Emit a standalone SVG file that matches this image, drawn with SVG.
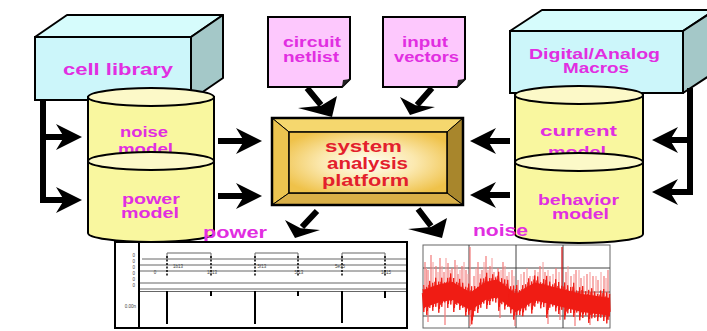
<svg xmlns="http://www.w3.org/2000/svg" width="707" height="331" viewBox="0 0 707 331">
<style>
.t{font-family:"Liberation Sans",Arial,sans-serif;font-weight:bold;}
.m{fill:#e12ee1;font-size:15px;}
.r{fill:#e3202c;font-size:17px;}
.cyl{fill:#f9f79f;stroke:#000;stroke-width:2;}
.cyltop{fill:#fcf9c8;stroke:#000;stroke-width:2;}
.doc{fill:#fdc8fd;stroke:#000;stroke-width:2;}
.front{fill:#ccf6fa;stroke:#000;stroke-width:2;}
.top{fill:#d6fcfc;stroke:#000;stroke-width:2;stroke-linejoin:round;}
.side{fill:#a4c8c8;stroke:#000;stroke-width:2;stroke-linejoin:round;}
.conn{fill:none;stroke:#000;stroke-width:6;marker-end:url(#ah);}
.sm{font-family:"Liberation Sans",Arial,sans-serif;font-size:4.5px;fill:#444;}
.grid{stroke:#444;stroke-width:1;}
.pl{fill:none;stroke:#666;stroke-width:1;}
</style>
<defs>
<marker id="ah" viewBox="0 0 26 26" refX="10" refY="13" markerWidth="26" markerHeight="26" markerUnits="userSpaceOnUse" orient="auto">
<path d="M0,0 L26,13 L0,26 L8,13 Z" fill="#000"/>
</marker>
<radialGradient id="pg" cx="50%" cy="50%" r="60%">
<stop offset="0" stop-color="#fffef4"/>
<stop offset="0.5" stop-color="#fbe8ae"/>
<stop offset="1" stop-color="#efc24a"/>
</radialGradient>
</defs>

<g id="power-chart">
<rect x="115" y="242" width="292" height="86" fill="#fff" stroke="#000" stroke-width="2"/>
<line x1="139" y1="243" x2="139" y2="327" stroke="#000" stroke-width="2"/>
<path class="pl" d="M142,259H406M140,265H406M140,271H406M140,289H406M140,291.5H406"/>
<path class="pl" d="M140,283H406" stroke="#bbb"/>
<path class="pl" stroke="#555" d="M167,259V253H211V259M255,259V253H298V259M342,259V253H385V259"/>
<path fill="none" stroke="#000" stroke-width="1.5" stroke-dasharray="2,1.5" d="M167,256V277M211,256V277M255,256V277M298,256V277M342,256V277M385,256V277"/>
<path fill="none" stroke="#000" stroke-width="2" d="M167,291V324M255,291V324M342,291V323M211,291V296M298,291V296M385,291V298"/>
<g class="sm" text-anchor="end">
<text x="135" y="257">0</text><text x="135" y="263">0</text><text x="135" y="269">0</text>
<text x="135" y="275">0</text><text x="135" y="281">0</text><text x="135" y="287">0</text>
<text x="136" y="308">0.00n</text>
</g>
<g class="sm" text-anchor="middle">
<text x="178" y="268">1b13</text><text x="262" y="268">5f13</text><text x="340" y="268">5e15</text>
<text x="155" y="274">0</text><text x="212" y="274">1b13</text><text x="299" y="274">5f13</text><text x="386" y="274">1e15</text>
</g>
</g>

<g id="noise-chart">
<rect x="423" y="245" width="187" height="83" fill="#fff" stroke="#666" stroke-width="1"/>
<path class="grid" d="M469,245V328M516,245V328M563,245V328M423,268H610M423,292H610M423,316H610"/>
<path fill="none" stroke="#f27a7a" stroke-width="1.2" d="M425,262V297M428,270V296M431,255V295M436,266V293M440,258V292M444,272V291M448,263V291M452,268V290M455,260V291M458,274V293M462,266V296M466,270V298M470,247V300M474,276V298M478,262V295M482,270V292M486,256V290M490,266V289M494,272V288M498,268V288M503,262V292M507,276V295M512,270V298M518,280V300M524,272V297M530,276V293M535,270V291M540,266V291M545,272V293M550,276V294M556,268V295M566,272V298M571,276V299M576,270V300M581,278V302M587,274V303M593,276V303M598,280V304M604,276V305M608,270V305M428,300V322M445,300V325M470,305V326M500,300V318M515,305V326M548,300V324M560,305V320M575,305V326M590,305V325"/>
<path fill="none" stroke="#f59a9a" stroke-width="1" d="M426.5,268V296M433,262V294M438,272V292M442,266V291M446,258V291M450,270V290M457,265V292M460,270V294M464,262V297M468,274V299M476,268V296M480,274V293M484,262V291M488,270V289M492,258V288M496,276V288M501,270V290M505,266V293M509,272V296M514,276V300M521,274V298M527,268V295M533,276V291M538,272V291M543,262V292M548,270V293M553,274V294M559,272V296M568,266V298M574,274V300M579,270V301M584,276V302M590,272V303M596,276V304M601,272V304M606,278V305"/>
<path fill="none" stroke="#d42020" stroke-width="1.3" d="M562,247V297"/>
<polygon fill="#f01c14" points="423,290 435,285.8 441,283.8 453,282 462,287.8 471,292.3 480,285.7 486,281.8 497,279.5 507,286.9 516,294 525,288.3 535,282.6 549,285.7 562,289 582,294 597,296.1 610,298 610,316 597,314.1 582,312 562,307 549,303.7 535,300.6 525,306.3 516,312 507,304.9 497,297.5 486,299.8 480,303.7 471,310.3 462,305.8 453,300 441,301.8 435,303.8 423,308"/>
<polyline id="zz" fill="none" stroke="#f01c14" stroke-width="1" points="423,289 424.5,308 426,290.9 427.5,310.9 429,284.9 430.5,303.9 432,286.8 433.5,306.8 435,281.8 436.5,302.8 438,285.7 439.5,308.7 441,281.8 442.5,302.8 444,286.4 445.5,298.4 447,281.9 448.5,303.9 450,277.5 451.5,300.5 453,282 454.5,308 456,285.9 457.5,300.9 459,282.9 460.5,305.9 462,286.8 463.5,303.8 465,290.8 466.5,311.8 468,287.7 469.5,310.7 471,290.3 472.5,320.3 474,290.1 475.5,307.1 477,290.9 478.5,308.9 480,282.7 481.5,303.7 483,282.5 484.5,299.5 486,276.8 487.5,304.8 489,282 490.5,301 492,278.3 493.5,297.3 495,281.5 496.5,298.5 498,275.8 499.5,306.8 501,282.2 502.5,300.2 504,283.5 505.5,305.5 507,283.9 508.5,302.9 510,290.3 511.5,309.3 513,289.6 514.5,315.6 516,289 517.5,311 519,294.1 520.5,311.1 522,289.2 523.5,312.2 525,288.3 526.5,306.3 528,282.4 529.5,302.4 531,285.5 532.5,309.5 534,279.6 535.5,302.6 537,280.5 538.5,299.5 540,286.3 541.5,304.3 543,283.1 544.5,303.1 546,279.9 547.5,313.9 549,285.7 550.5,303.7 552,288.5 553.5,302.5 555,283.3 556.5,307.3 558,286 559.5,310 561,289.8 562.5,305.8 564,286.5 565.5,315.5 567,289.3 568.5,309.3 570,291 571.5,309 573,286.8 574.5,312.8 576,294.5 577.5,308.5 579,291.3 580.5,316.3 582,290 583.5,314 585,295.4 586.5,311.4 588,293.9 589.5,318.9 591,292.3 592.5,314.3 594,295.7 595.5,313.7 597,298.1 598.5,317.1 600,294.6 601.5,313.6 603,293 604.5,317 606,296.4 607.5,319.4 609,297.9 609.5,315.9"/>
<use href="#zz" transform="translate(0.7,-4)"/>
<use href="#zz" transform="translate(-0.7,4)"/>
</g>

<g id="cell-library">
<polygon class="top" points="35,37 67,15 223,15 191,37"/>
<polygon class="side" points="191,37 223,15 223,78 191,100"/>
<rect class="front" x="35" y="37" width="156" height="63"/>
<text class="t m" x="63" y="75" style="font-size:17px" textLength="110" lengthAdjust="spacingAndGlyphs">cell library</text>
</g>

<g id="macros">
<polygon class="top" points="510,31 542,10 715,10 683,31"/>
<polygon class="side" points="683,31 715,10 715,72 683,93"/>
<rect class="front" x="510" y="31" width="173" height="62"/>
<text class="t m" x="529" y="59" textLength="131" lengthAdjust="spacingAndGlyphs">Digital/Analog</text>
<text class="t m" x="563" y="73" textLength="66" lengthAdjust="spacingAndGlyphs">Macros</text>
</g>

<g id="noise-model">
<path class="cyl" d="M88,97V168A63,9 0 0 0 214,168V97Z"/>
<ellipse class="cyltop" cx="151" cy="97" rx="63" ry="9"/>
<text class="t m" x="120" y="137" textLength="48" lengthAdjust="spacingAndGlyphs">noise</text>
<text class="t m" x="118" y="154" textLength="55" lengthAdjust="spacingAndGlyphs">model</text>
</g>

<g id="power-model">
<path class="cyl" d="M88,161V233A63,9 0 0 0 214,233V161Z"/>
<ellipse class="cyltop" cx="151" cy="161" rx="63" ry="9"/>
<text class="t m" x="122" y="204" textLength="58" lengthAdjust="spacingAndGlyphs">power</text>
<text class="t m" x="121" y="218" textLength="58" lengthAdjust="spacingAndGlyphs">model</text>
</g>

<g id="current-model">
<path class="cyl" d="M515,95V168A64,9 0 0 0 643,168V95Z"/>
<ellipse class="cyltop" cx="579" cy="95" rx="64" ry="9"/>
<text class="t m" x="540" y="136" textLength="77" lengthAdjust="spacingAndGlyphs">current</text>
<text class="t m" x="548" y="157" textLength="58" lengthAdjust="spacingAndGlyphs">model</text>
</g>

<g id="behavior-model">
<path class="cyl" d="M515,162V234A64,9 0 0 0 643,234V162Z"/>
<ellipse class="cyltop" cx="579" cy="162" rx="64" ry="9"/>
<text class="t m" x="538" y="205" textLength="81" lengthAdjust="spacingAndGlyphs">behavior</text>
<text class="t m" x="552" y="219" textLength="57" lengthAdjust="spacingAndGlyphs">model</text>
</g>

<g id="circuit-netlist">
<path class="doc" d="M268,17H350V79L342,87H268Z"/>
<polygon points="342,87 350,79 343,80" fill="#222"/>
<text class="t m" x="283" y="47" style="font-size:14px" textLength="58" lengthAdjust="spacingAndGlyphs">circuit</text>
<text class="t m" x="283" y="62" style="font-size:14px" textLength="56" lengthAdjust="spacingAndGlyphs">netlist</text>
</g>

<g id="input-vectors">
<path class="doc" d="M383,17H465V79L457,87H383Z"/>
<polygon points="457,87 465,79 458,80" fill="#222"/>
<text class="t m" x="402" y="47" style="font-size:14px" textLength="46" lengthAdjust="spacingAndGlyphs">input</text>
<text class="t m" x="394" y="62" style="font-size:14px" textLength="65" lengthAdjust="spacingAndGlyphs">vectors</text>
</g>

<g id="platform">
<polygon points="272,118 463,118 447,132 289,132" fill="#f5d76e" stroke="#000" stroke-width="1"/>
<polygon points="272,118 289,132 289,193 272,205" fill="#ecc450" stroke="#000" stroke-width="1"/>
<polygon points="463,118 463,205 447,193 447,132" fill="#a8862c" stroke="#000" stroke-width="1"/>
<polygon points="272,205 463,205 447,193 289,193" fill="#dab048" stroke="#000" stroke-width="1"/>
<rect x="289" y="132" width="158" height="61" fill="url(#pg)" stroke="#000" stroke-width="1.5"/>
<rect x="272" y="118" width="191" height="87" fill="none" stroke="#000" stroke-width="2.5"/>
<text class="t r" x="325" y="152" textLength="77" lengthAdjust="spacingAndGlyphs">system</text>
<text class="t r" x="327" y="169" textLength="81" lengthAdjust="spacingAndGlyphs">analysis</text>
<text class="t r" x="322" y="186" textLength="87" lengthAdjust="spacingAndGlyphs">platform</text>
</g>

<g id="connectors">
<path class="conn" d="M43,100V200H66" stroke-linejoin="miter"/>
<path class="conn" d="M43,137H66"/>
<path class="conn" d="M218,141H246"/>
<path class="conn" d="M218,196H246"/>
<path class="conn" d="M510,141H486"/>
<path class="conn" d="M510,195H486"/>
<path class="conn" d="M690,88V192H668" stroke-linejoin="miter"/>
<path class="conn" d="M690,140H668"/>
<path fill="none" stroke="#000" stroke-width="6" d="M307,88L321,105M432,88L417,105M317,211L302,227M418,209L431,226"/>
<polygon points="332,117 298,108 321,105.7 337,96"/>
<polygon points="410,115 400,97 415.6,105.2 435,107"/>
<polygon points="295,238 285,220 300.6,228.2 320,230"/>
<polygon points="442,238 408,229 431,227 447,218"/>
</g>

<g id="chart-labels">
<text class="t m" x="203" y="238" style="font-size:16px" textLength="64" lengthAdjust="spacingAndGlyphs">power</text>
<text class="t m" x="473" y="236" style="font-size:16px" textLength="55" lengthAdjust="spacingAndGlyphs">noise</text>
</g>
</svg>
